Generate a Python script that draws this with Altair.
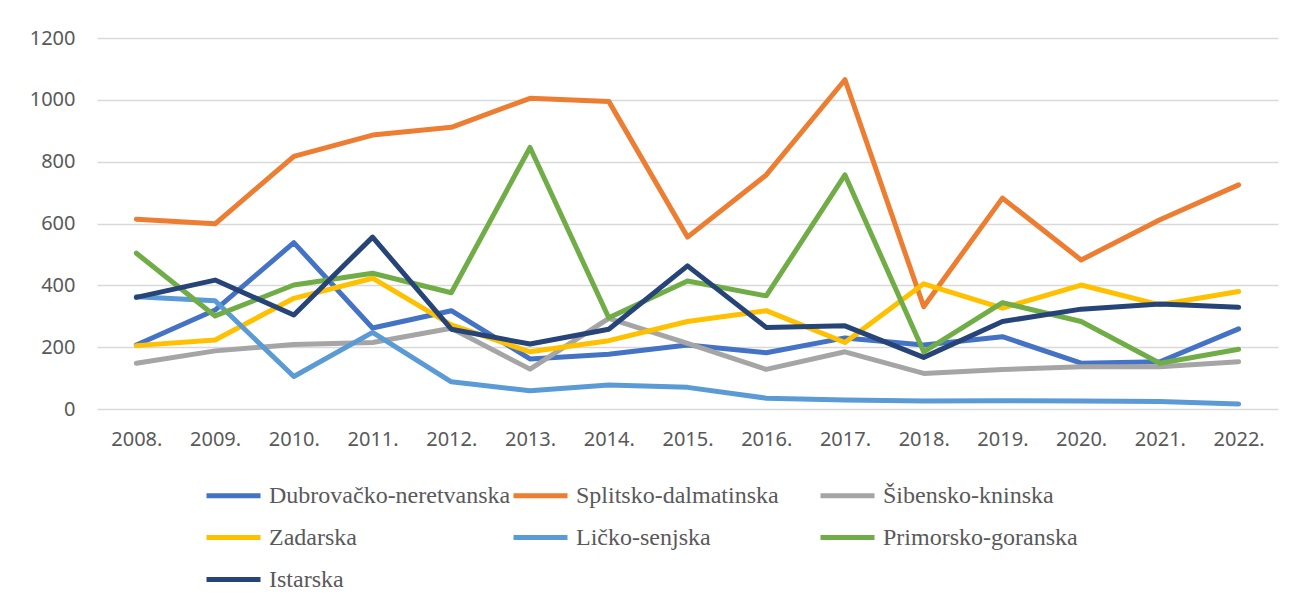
import altair as alt
import pandas as pd

years = ["2008.", "2009.", "2010.", "2011.", "2012.", "2013.", "2014.", "2015.",
         "2016.", "2017.", "2018.", "2019.", "2020.", "2021.", "2022."]

series_names = ["Dubrovačko-neretvanska", "Splitsko-dalmatinska", "Šibensko-kninska",
                "Zadarska", "Ličko-senjska", "Primorsko-goranska", "Istarska"]
colors = ["#4472C4", "#ED7D31", "#A5A5A5", "#FFC000", "#5B9BD5", "#70AD47", "#264478"]

dubrovacko = [207, 320, 538, 262, 318, 162, 177, 207, 182, 230, 207, 234, 148, 153, 259]
splitsko = [614, 599, 817, 886, 911, 1005, 995, 556, 757, 1065, 331, 682, 482, 612, 725]
sibensko = [148, 188, 209, 215, 261, 129, 293, 212, 128, 185, 115, 128, 137, 137, 153]
zadarska = [205, 223, 358, 423, 272, 185, 221, 283, 318, 215, 405, 326, 401, 337, 380]
licko = [363, 350, 105, 248, 88, 59, 78, 70, 35, 29, 26, 27, 26, 24, 16]
primorsko = [504, 301, 401, 439, 376, 846, 295, 414, 366, 757, 185, 344, 283, 148, 193]
istarska = [361, 417, 304, 556, 258, 210, 258, 463, 264, 269, 167, 283, 323, 340, 329]

all_values = [dubrovacko, splitsko, sibensko, zadarska, licko, primorsko, istarska]

rows = []
for name, vals in zip(series_names, all_values):
    for yr, v in zip(years, vals):
        rows.append({"Godina": yr, "Županija": name, "Vrijednost": v})
df = pd.DataFrame(rows)

label_font = "Noto Sans"
txt_color = "#595959"

x_enc = alt.X("Godina:O", sort=years,
              axis=alt.Axis(title=None, labelAngle=0, labelFont=label_font, labelFontSize=20,
                            labelColor=txt_color, ticks=False, domain=False, labelPadding=20,
                            grid=False))
y_enc = alt.Y("Vrijednost:Q", scale=alt.Scale(domain=[0, 1200], nice=False),
              axis=alt.Axis(title=None, values=[0, 200, 400, 600, 800, 1000, 1200], format="d",
                            labelFont=label_font, labelFontSize=20, labelColor=txt_color,
                            ticks=False, domain=False, labelPadding=22,
                            grid=True, gridColor="#D9D9D9", gridWidth=1.5))
color_enc = alt.Color("Županija:N",
                      scale=alt.Scale(domain=series_names, range=colors),
                      sort=series_names,
                      legend=alt.Legend(title=None, orient="none", legendX=107, legendY=428,
                                        direction="horizontal", columns=3, gridAlign="all",
                                        columnPadding=-8, rowPadding=-12, padding=0,
                                        symbolType="stroke", symbolSize=2916,
                                        symbolStrokeWidth=5, labelFont="Liberation Serif",
                                        labelFontSize=24, labelColor=txt_color,
                                        labelOffset=6, labelLimit=400))

layers = []
for name in series_names:
    layers.append(
        alt.Chart(df).transform_filter(alt.datum["Županija"] == name)
        .mark_line(strokeWidth=5, strokeCap="round", strokeJoin="round")
        .encode(x=x_enc, y=y_enc, color=color_enc)
    )

chart = alt.layer(*layers).properties(
    width=1181, height=371,
    autosize=alt.AutoSizeParams(type="none"),
    padding={"left": 89, "top": 30, "right": 6, "bottom": 185},
).configure(background="white", view=alt.ViewConfig(stroke=None))

chart.save("out.html", embed_options={"renderer": "svg", "actions": False})
